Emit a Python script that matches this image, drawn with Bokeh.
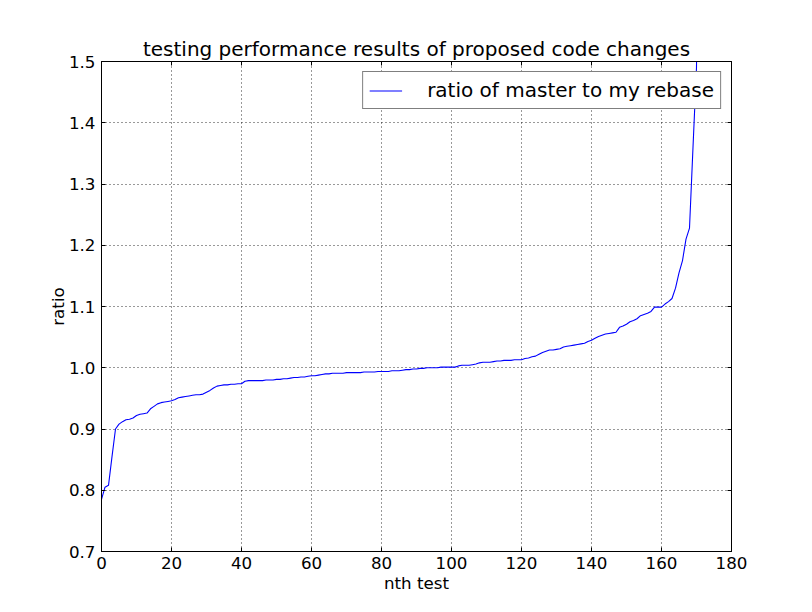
from bokeh.plotting import figure
from bokeh.models import Range1d, FixedTicker, LinearAxis, NumeralTickFormatter, Legend, LegendItem
from bokeh.embed import file_html
from bokeh.resources import INLINE

ratio = [
    0.785, 0.805, 0.808, 0.855, 0.900, 0.908, 0.912, 0.915, 0.916, 0.918,
    0.922, 0.924, 0.925, 0.926, 0.933, 0.937, 0.941, 0.943, 0.944, 0.945,
    0.946, 0.948, 0.951, 0.952, 0.953, 0.954, 0.955, 0.956, 0.956, 0.957,
    0.960, 0.963, 0.967, 0.970, 0.971, 0.972, 0.972, 0.973, 0.973, 0.974,
    0.974, 0.978, 0.979, 0.979, 0.979, 0.979, 0.979, 0.980, 0.980, 0.980,
    0.981, 0.981, 0.982, 0.982, 0.983, 0.984, 0.984, 0.985, 0.985, 0.986,
    0.987, 0.987, 0.988, 0.989, 0.990, 0.990, 0.991, 0.991, 0.991, 0.991,
    0.992, 0.992, 0.992, 0.992, 0.992, 0.993, 0.993, 0.993, 0.993, 0.994,
    0.994, 0.994, 0.994, 0.995, 0.995, 0.995, 0.996, 0.997, 0.997, 0.998,
    0.998, 0.999, 0.999, 1.000, 1.000, 1.000, 1.000, 1.001, 1.001, 1.001,
    1.001, 1.001, 1.003, 1.004, 1.004, 1.004, 1.005, 1.006, 1.008, 1.009,
    1.009, 1.009, 1.010, 1.011, 1.011, 1.012, 1.012, 1.012, 1.013, 1.013,
    1.013, 1.015, 1.016, 1.018, 1.019, 1.022, 1.025, 1.027, 1.029, 1.029,
    1.030, 1.031, 1.034, 1.035, 1.036, 1.037, 1.038, 1.039, 1.040, 1.043,
    1.045, 1.048, 1.051, 1.053, 1.055, 1.056, 1.057, 1.058, 1.066, 1.068,
    1.071, 1.075, 1.077, 1.080, 1.085, 1.087, 1.089, 1.092, 1.099, 1.099,
    1.099, 1.104, 1.108, 1.113, 1.130, 1.155, 1.175, 1.210, 1.228, 1.360,
    1.490, 2.200,
]
test_index = list(range(len(ratio)))

x_ticks = [0, 20, 40, 60, 80, 100, 120, 140, 160, 180]
y_ticks = [0.7, 0.8, 0.9, 1.0, 1.1, 1.2, 1.3, 1.4, 1.5]

FONT = "DejaVu Sans"

p = figure(
    frame_width=630, frame_height=490,
    min_border_left=101, min_border_right=81, min_border_top=61, min_border_bottom=61,
    x_range=Range1d(0, 180), y_range=Range1d(0.7, 1.5),
    output_backend="svg", toolbar_location=None,
    title="testing performance results of proposed code changes",
)
p.background_fill_color = "white"
p.border_fill_color = "white"
p.outline_line_color = "black"
p.outline_line_width = 1

p.title.align = "center"
p.title.text_font = FONT
p.title.text_font_size = "20px"
p.title.text_font_style = "normal"
p.title.text_color = "black"
p.title.standoff = 2

r = p.line(test_index, ratio, line_color="#0000ff", line_width=1.1)

def style_axis(ax, show_labels, ticks):
    ax.major_tick_in = 4
    ax.major_tick_out = 0
    ax.minor_tick_line_color = None
    ax.axis_line_color = "black"
    ax.major_tick_line_color = "black"
    ax.major_label_text_font = FONT
    ax.major_label_text_color = "black"
    ax.axis_label_text_font = FONT
    ax.axis_label_text_font_style = "normal"
    ax.axis_label_text_font_size = "16.7px"
    ax.axis_label_text_color = "black"
    ax.major_label_text_font_size = "16.7px"
    if not show_labels:
        ax.major_label_overrides = {t: "" for t in ticks}
        ax.major_label_standoff = 0

xa = p.xaxis[0]
ya = p.yaxis[0]
xa.ticker = FixedTicker(ticks=x_ticks)
ya.ticker = FixedTicker(ticks=y_ticks)
ya.formatter = NumeralTickFormatter(format="0.0")
xa.axis_label = "nth test"
ya.axis_label = "ratio"
style_axis(xa, True, x_ticks)
style_axis(ya, True, y_ticks)
xa.axis_label_standoff = 1
ya.axis_label_standoff = -2
xa.major_label_standoff = 5
ya.major_label_standoff = 6

top = LinearAxis(ticker=FixedTicker(ticks=x_ticks))
right = LinearAxis(ticker=FixedTicker(ticks=y_ticks))
style_axis(top, False, x_ticks)
style_axis(right, False, y_ticks)
p.add_layout(top, "above")
p.add_layout(right, "right")

for g in (p.xgrid[0], p.ygrid[0]):
    g.grid_line_color = "black"
    g.grid_line_dash = "1 3"
    g.grid_line_width = 1
    g.grid_line_alpha = 0.8
p.xgrid[0].ticker = FixedTicker(ticks=x_ticks)
p.ygrid[0].ticker = FixedTicker(ticks=y_ticks)

legend = Legend(items=[LegendItem(label="ratio of master to my rebase", renderers=[r])])
legend.location = "top_right"
legend.margin = 10
legend.padding = 6
legend.glyph_width = 33
legend.glyph_height = 15
legend.label_height = 15
legend.label_standoff = 25
legend.label_text_font = FONT
legend.label_text_font_size = "20px"
legend.label_text_color = "black"
legend.border_line_color = "black"
legend.border_line_width = 1
legend.background_fill_color = "white"
legend.background_fill_alpha = 1
p.add_layout(legend, "center")

open("out.html", "w").write(file_html(p, INLINE))
